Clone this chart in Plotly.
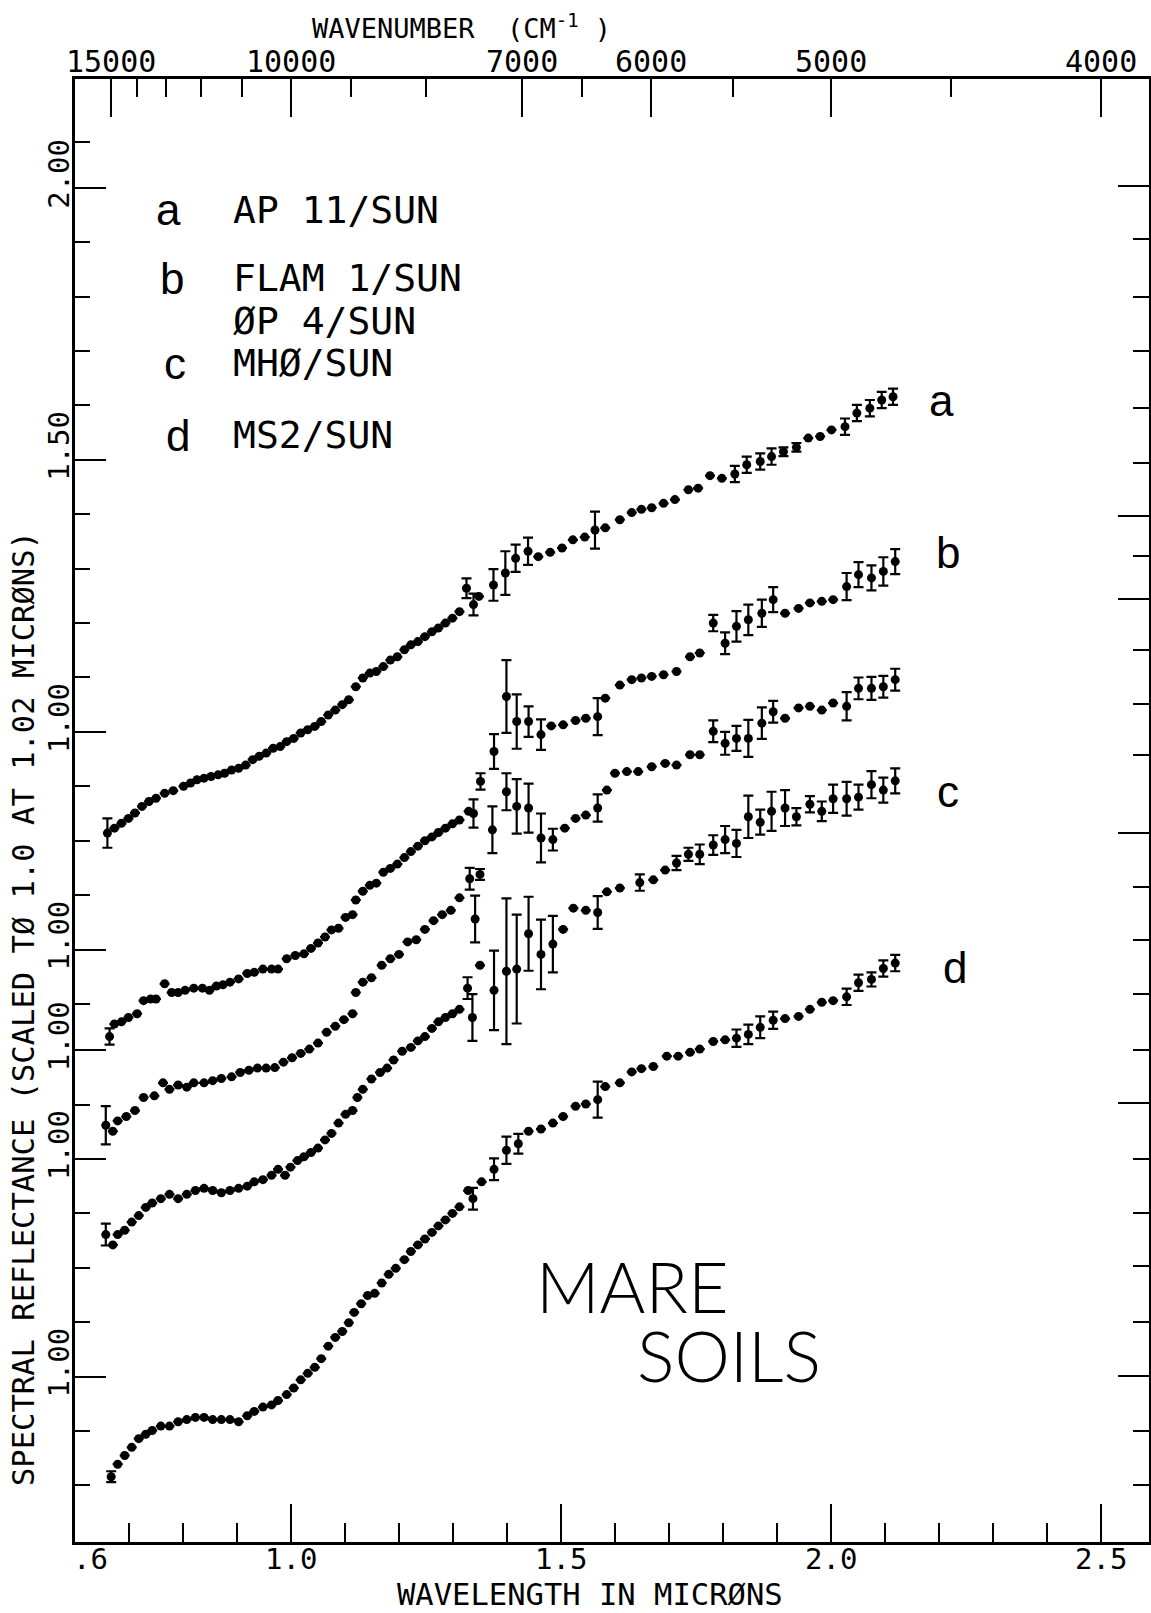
import plotly.graph_objects as go

# ---------------- data: reflectance normalised to 1.0 at 1.02 microns ----------------
wl_a = [
    0.660, 0.673, 0.686, 0.699, 0.711, 0.724, 0.737, 0.750, 0.766, 0.782,
    0.801, 0.814, 0.826, 0.839, 0.852, 0.865, 0.877, 0.890, 0.903, 0.916,
    0.929, 0.941, 0.954, 0.967, 0.980, 0.992, 1.005, 1.018, 1.031, 1.044,
    1.056, 1.069, 1.082, 1.095, 1.107, 1.120, 1.133, 1.146, 1.158, 1.171,
    1.184, 1.197, 1.210, 1.222, 1.235, 1.248, 1.261, 1.273, 1.286, 1.299,
    1.312, 1.325, 1.338, 1.348, 1.375, 1.397, 1.416, 1.439, 1.458, 1.480,
    1.502, 1.522, 1.544, 1.563, 1.582, 1.609, 1.631, 1.649, 1.668, 1.690,
    1.711, 1.736, 1.754, 1.776, 1.798, 1.822, 1.844, 1.869, 1.890, 1.912,
    1.936, 1.958, 1.980, 2.001, 2.026, 2.048, 2.072, 2.094, 2.115]
refl_a = [
    0.814, 0.823, 0.832, 0.841, 0.851, 0.863, 0.872, 0.878, 0.887, 0.892,
    0.900, 0.906, 0.912, 0.915, 0.918, 0.921, 0.924, 0.930, 0.933, 0.939,
    0.949, 0.955, 0.961, 0.970, 0.973, 0.982, 0.988, 0.998, 1.004, 1.010,
    1.019, 1.031, 1.040, 1.050, 1.059, 1.083, 1.099, 1.108, 1.111, 1.120,
    1.132, 1.138, 1.151, 1.160, 1.166, 1.175, 1.184, 1.191, 1.200, 1.209,
    1.221, 1.264, 1.234, 1.249, 1.270, 1.292, 1.319, 1.332, 1.322, 1.330,
    1.338, 1.353, 1.358, 1.371, 1.375, 1.390, 1.403, 1.409, 1.412, 1.420,
    1.427, 1.445, 1.448, 1.471, 1.466, 1.474, 1.491, 1.497, 1.506, 1.515,
    1.523, 1.540, 1.543, 1.555, 1.561, 1.586, 1.595, 1.610, 1.616]
err_a = {0.660: 0.027, 1.325: 0.018, 1.338: 0.020, 1.375: 0.029, 1.397: 0.040,
         1.416: 0.025, 1.439: 0.025, 1.563: 0.034, 1.822: 0.015, 1.844: 0.015,
         1.869: 0.015, 1.890: 0.015, 1.912: 0.008, 1.936: 0.008, 2.026: 0.015,
         2.048: 0.015, 2.072: 0.015, 2.094: 0.015, 2.115: 0.015}

wl_b = [
    0.664, 0.673, 0.686, 0.699, 0.715, 0.727, 0.740, 0.750, 0.766, 0.779,
    0.791, 0.804, 0.820, 0.836, 0.849, 0.862, 0.874, 0.887, 0.903, 0.919,
    0.932, 0.948, 0.964, 0.976, 0.992, 1.008, 1.024, 1.037, 1.050, 1.063,
    1.075, 1.088, 1.101, 1.114, 1.120, 1.133, 1.146, 1.158, 1.171, 1.184,
    1.197, 1.210, 1.222, 1.235, 1.248, 1.261, 1.273, 1.286, 1.299, 1.312,
    1.329, 1.338, 1.351, 1.376, 1.399, 1.418, 1.440, 1.463, 1.482, 1.504,
    1.527, 1.546, 1.568, 1.582, 1.609, 1.631, 1.649, 1.668, 1.690, 1.714,
    1.739, 1.757, 1.782, 1.804, 1.825, 1.847, 1.872, 1.893, 1.915, 1.940,
    1.961, 1.983, 2.004, 2.029, 2.051, 2.075, 2.097, 2.119]
refl_b = [
    0.840, 0.863, 0.867, 0.875, 0.882, 0.906, 0.909, 0.909, 0.937, 0.921,
    0.921, 0.925, 0.929, 0.929, 0.925, 0.933, 0.935, 0.940, 0.946, 0.956,
    0.958, 0.964, 0.964, 0.964, 0.983, 0.989, 0.992, 1.002, 1.012, 1.023,
    1.036, 1.039, 1.059, 1.064, 1.091, 1.107, 1.118, 1.122, 1.142, 1.149,
    1.157, 1.169, 1.180, 1.190, 1.200, 1.207, 1.215, 1.223, 1.231, 1.238,
    1.254, 1.250, 1.309, 1.364, 1.465, 1.419, 1.419, 1.395, 1.411, 1.413,
    1.421, 1.425, 1.428, 1.462, 1.486, 1.496, 1.499, 1.502, 1.505, 1.511,
    1.538, 1.545, 1.600, 1.563, 1.594, 1.606, 1.618, 1.643, 1.618, 1.627,
    1.637, 1.640, 1.643, 1.667, 1.689, 1.683, 1.695, 1.713]
err_b = {0.664: 0.015, 1.338: 0.026, 1.351: 0.015, 1.376: 0.032, 1.399: 0.067,
         1.418: 0.050, 1.440: 0.028, 1.463: 0.028, 1.568: 0.034, 1.782: 0.015,
         1.804: 0.020, 1.825: 0.028, 1.847: 0.028, 1.872: 0.025, 1.893: 0.023,
         2.029: 0.025, 2.051: 0.023, 2.075: 0.023, 2.097: 0.026, 2.119: 0.023}

wl_b2 = [
    0.657, 0.670, 0.679, 0.695, 0.711, 0.727, 0.747, 0.763, 0.775, 0.791,
    0.807, 0.820, 0.839, 0.855, 0.871, 0.890, 0.906, 0.922, 0.938, 0.954,
    0.970, 0.986, 1.002, 1.018, 1.034, 1.050, 1.066, 1.082, 1.098, 1.114,
    1.120, 1.133, 1.149, 1.168, 1.184, 1.200, 1.216, 1.232, 1.248, 1.264,
    1.280, 1.296, 1.312, 1.331, 1.341, 1.350, 1.373, 1.399, 1.418, 1.440,
    1.463, 1.485, 1.507, 1.527, 1.546, 1.568, 1.585, 1.600, 1.622, 1.643,
    1.668, 1.693, 1.714, 1.739, 1.757, 1.782, 1.804, 1.825, 1.847, 1.872,
    1.893, 1.915, 1.940, 1.961, 1.983, 2.004, 2.029, 2.051, 2.075, 2.097,
    2.119]
refl_b2 = [
    0.862, 0.851, 0.870, 0.878, 0.889, 0.913, 0.916, 0.940, 0.928, 0.936,
    0.932, 0.940, 0.940, 0.944, 0.948, 0.951, 0.959, 0.963, 0.967, 0.967,
    0.968, 0.978, 0.986, 0.994, 1.002, 1.013, 1.033, 1.044, 1.056, 1.067,
    1.106, 1.125, 1.133, 1.156, 1.168, 1.176, 1.199, 1.203, 1.222, 1.238,
    1.249, 1.257, 1.280, 1.315, 1.241, 1.323, 1.405, 1.475, 1.448, 1.445,
    1.390, 1.387, 1.408, 1.426, 1.432, 1.445, 1.478, 1.509, 1.512, 1.512,
    1.521, 1.527, 1.524, 1.543, 1.543, 1.586, 1.564, 1.573, 1.573, 1.601,
    1.622, 1.610, 1.629, 1.632, 1.625, 1.638, 1.632, 1.665, 1.665, 1.668,
    1.681]
err_b2 = {0.657: 0.035, 1.331: 0.020, 1.341: 0.043, 1.350: 0.010, 1.373: 0.043,
          1.399: 0.034, 1.418: 0.050, 1.440: 0.045, 1.463: 0.045, 1.485: 0.020,
          1.568: 0.025, 1.782: 0.020, 1.804: 0.021, 1.825: 0.023, 1.847: 0.034,
          1.872: 0.029, 1.893: 0.020, 2.029: 0.026, 2.051: 0.020, 2.075: 0.021,
          2.097: 0.020, 2.119: 0.020}

wl_c = [
    0.657, 0.670, 0.679, 0.692, 0.705, 0.718, 0.731, 0.743, 0.759, 0.775,
    0.791, 0.807, 0.823, 0.839, 0.855, 0.871, 0.887, 0.903, 0.919, 0.932,
    0.948, 0.964, 0.976, 0.989, 0.999, 1.012, 1.024, 1.037, 1.050, 1.063,
    1.075, 1.088, 1.101, 1.114, 1.123, 1.133, 1.149, 1.165, 1.178, 1.190,
    1.206, 1.222, 1.235, 1.248, 1.261, 1.273, 1.286, 1.299, 1.312, 1.327,
    1.336, 1.350, 1.376, 1.399, 1.418, 1.440, 1.463, 1.485, 1.504, 1.523,
    1.546, 1.568, 1.585, 1.609, 1.646, 1.671, 1.693, 1.714, 1.736, 1.757,
    1.782, 1.804, 1.825, 1.847, 1.869, 1.890, 1.915, 1.936, 1.961, 1.983,
    2.004, 2.029, 2.051, 2.075, 2.097, 2.119]
refl_c = [
    0.861, 0.842, 0.861, 0.869, 0.884, 0.896, 0.911, 0.919, 0.927, 0.935,
    0.927, 0.935, 0.942, 0.946, 0.942, 0.938, 0.942, 0.946, 0.950, 0.958,
    0.962, 0.970, 0.981, 0.970, 0.985, 0.997, 1.004, 1.012, 1.020, 1.035,
    1.047, 1.066, 1.082, 1.089, 1.113, 1.128, 1.147, 1.159, 1.167, 1.182,
    1.198, 1.205, 1.217, 1.225, 1.240, 1.252, 1.260, 1.267, 1.275, 1.314,
    1.260, 1.356, 1.310, 1.345, 1.349, 1.414, 1.376, 1.395, 1.422, 1.461,
    1.457, 1.453, 1.491, 1.498, 1.508, 1.513, 1.531, 1.544, 1.560, 1.560,
    1.577, 1.587, 1.580, 1.629, 1.619, 1.639, 1.645, 1.629, 1.652, 1.639,
    1.662, 1.662, 1.665, 1.688, 1.678, 1.695]
err_c = {0.657: 0.020, 1.327: 0.020, 1.336: 0.043, 1.376: 0.073, 1.399: 0.134,
         1.418: 0.100, 1.440: 0.068, 1.463: 0.064, 1.485: 0.052, 1.568: 0.030,
         1.646: 0.015, 1.714: 0.013, 1.736: 0.012, 1.757: 0.018, 1.782: 0.018,
         1.804: 0.025, 1.825: 0.025, 1.847: 0.039, 1.869: 0.023, 1.890: 0.036,
         1.915: 0.033, 1.936: 0.016, 1.961: 0.015, 1.983: 0.018, 2.004: 0.026,
         2.029: 0.031, 2.051: 0.023, 2.075: 0.025, 2.097: 0.023, 2.119: 0.023}

wl_d = [
    0.667, 0.679, 0.692, 0.705, 0.718, 0.731, 0.743, 0.759, 0.775, 0.791,
    0.807, 0.823, 0.839, 0.855, 0.871, 0.887, 0.903, 0.919, 0.932, 0.948,
    0.964, 0.976, 0.992, 1.005, 1.018, 1.031, 1.044, 1.056, 1.069, 1.082,
    1.095, 1.107, 1.117, 1.130, 1.142, 1.155, 1.168, 1.181, 1.194, 1.210,
    1.222, 1.235, 1.248, 1.261, 1.273, 1.286, 1.299, 1.312, 1.328, 1.337,
    1.353, 1.376, 1.399, 1.421, 1.440, 1.463, 1.485, 1.504, 1.527, 1.546,
    1.568, 1.582, 1.609, 1.631, 1.649, 1.671, 1.696, 1.717, 1.739, 1.757,
    1.782, 1.804, 1.825, 1.847, 1.869, 1.893, 1.915, 1.940, 1.961, 1.983,
    2.004, 2.029, 2.051, 2.075, 2.097, 2.119]
refl_d = [
    0.816, 0.839, 0.855, 0.870, 0.886, 0.894, 0.901, 0.909, 0.909, 0.917,
    0.921, 0.925, 0.925, 0.921, 0.921, 0.921, 0.917, 0.928, 0.936, 0.944,
    0.948, 0.956, 0.967, 0.979, 0.994, 1.006, 1.017, 1.033, 1.056, 1.072,
    1.083, 1.099, 1.118, 1.134, 1.149, 1.153, 1.172, 1.188, 1.199, 1.215,
    1.230, 1.242, 1.253, 1.265, 1.277, 1.288, 1.300, 1.312, 1.342, 1.327,
    1.358, 1.381, 1.416, 1.428, 1.451, 1.455, 1.466, 1.478, 1.497, 1.501,
    1.509, 1.533, 1.540, 1.560, 1.566, 1.570, 1.589, 1.589, 1.596, 1.602,
    1.616, 1.619, 1.622, 1.629, 1.642, 1.655, 1.658, 1.662, 1.675, 1.688,
    1.691, 1.698, 1.724, 1.730, 1.750, 1.760]
err_d = {0.667: 0.010, 1.337: 0.020, 1.376: 0.020, 1.399: 0.025, 1.421: 0.018,
         1.568: 0.033, 1.825: 0.016, 1.847: 0.018, 1.869: 0.020, 1.893: 0.016,
         2.029: 0.015, 2.051: 0.015, 2.075: 0.013, 2.097: 0.015, 2.119: 0.015}

# vertical offsets that stack the spectra (a on top)
series_names = ["AP 11/SUN", "FLAM 1/SUN", "ØP 4/SUN", "MHØ/SUN", "MS2/SUN"]
series_offsets = [0.0, 0.40, 0.585, 0.785, 1.185]

# axis tick definitions
wl_major = [0.6, 1.0, 1.5, 2.0, 2.5]
wl_major_text = [".6", "1.0", "1.5", "2.0", "2.5"]
wl_minor = [0.7, 0.8, 0.9, 1.1, 1.2, 1.3, 1.4, 1.6, 1.7, 1.8, 1.9, 2.1, 2.2, 2.3, 2.4]
wn_major = [15000, 10000, 7000, 6000, 5000, 4000]
wn_minor = [14000, 13000, 12000, 11000, 9000, 8000, 6500, 5500, 4500]
left_minor = [2.085, 1.9, 1.8, 1.7, 1.6, 1.4, 1.3, 1.2, 1.1, 0.9, 0.8, 0.7, 0.5,
              0.315, 0.115, 0.015, -0.085, -0.285, -0.385]
right_major = [2.004, 1.397, 1.244, 0.814, 0.317, -0.184]
right_minor = [1.906, 1.80, 1.70, 1.596, 1.494, 1.324, 1.151, 1.051, 0.958, 0.715,
               0.618, 0.518, 0.415, 0.215, 0.116, 0.018, -0.085, -0.285, -0.384]

# ---------------- figure ----------------
W, H = 1151, 1613
ML, MR, MT, MB = 75, 2, 79, 71
MONO = "DejaVu Sans Mono"
SANS = "Liberation Sans"
X_RANGE = [0.6, 2.589]
Y_RANGE = [-0.489, 2.2]


def px_x(px):
    return (px - ML) / (W - ML - MR)


def px_y(py):
    return (H - MB - py) / (H - MT - MB)


def err_list(wl, table):
    return [table.get(round(w, 3), 0.0) for w in wl]


fig = go.Figure()

all_series = [
    (wl_a, refl_a, err_a),
    (wl_b, refl_b, err_b),
    (wl_b2, refl_b2, err_b2),
    (wl_c, refl_c, err_c),
    (wl_d, refl_d, err_d),
]
for name, off, (wl, refl, errs) in zip(series_names, series_offsets, all_series):
    fig.add_trace(go.Scatter(
        x=wl, y=[v - off for v in refl], mode="markers", name=name,
        marker=dict(size=9, color="black", symbol="circle", line=dict(width=0)),
        error_y=dict(type="data", array=err_list(wl, errs), visible=True,
                     color="black", thickness=2.2, width=5),
        showlegend=False, hoverinfo="skip",
    ))

# empty trace so the wavenumber axis and the right-hand frame are drawn
fig.add_trace(go.Scatter(x=[], y=[], xaxis="x2", yaxis="y2", showlegend=False))

left_major = [2.0, 1.5] + [1.0 - off for off in series_offsets]
left_major_text = ["2.00", "1.50"] + ["1.00"] * len(series_offsets)

axis_common = dict(showline=True, linecolor="black", linewidth=2.5, ticks="inside",
                   tickcolor="black", tickwidth=2, showgrid=False, zeroline=False,
                   showticklabels=False)

fig.update_layout(
    width=W, height=H,
    margin=dict(l=ML, r=MR, t=MT, b=MB, pad=0),
    paper_bgcolor="white", plot_bgcolor="white",
    showlegend=False,
    xaxis=dict(range=X_RANGE, tickmode="array", tickvals=wl_major, ticklen=38,
               minor=dict(tickvals=wl_minor, ticks="inside", ticklen=19, tickwidth=2,
                          tickcolor="black"), **axis_common),
    xaxis2=dict(range=X_RANGE, overlaying="x", side="top", anchor="y", tickmode="array",
                tickvals=[10000.0 / w for w in wn_major], ticklen=38,
                minor=dict(tickvals=[10000.0 / w for w in wn_minor], ticks="inside",
                           ticklen=18, tickwidth=2, tickcolor="black"), **axis_common),
    yaxis=dict(range=Y_RANGE, tickmode="array", tickvals=left_major, ticklen=31,
               minor=dict(tickvals=left_minor, ticks="inside", ticklen=15, tickwidth=2,
                          tickcolor="black"), **axis_common),
    yaxis2=dict(range=Y_RANGE, overlaying="y", side="right", anchor="x", tickmode="array",
                tickvals=right_major, ticklen=31,
                minor=dict(tickvals=right_minor, ticks="inside", ticklen=16, tickwidth=2,
                           tickcolor="black"), **axis_common),
)

annotations = []


def text_at(text, x, y, size, family=MONO, xref="paper", yref="paper", xanchor="center",
            angle=0, weight=None, xshift=0, yshift=0):
    font = dict(family=family, size=size, color="black")
    if weight is not None:
        font["weight"] = weight
    annotations.append(dict(text=text, x=x, y=y, xref=xref, yref=yref,
                            xanchor=xanchor, yanchor="middle", showarrow=False,
                            textangle=angle, font=font, xshift=xshift, yshift=yshift))


# tick labels: wavelength (bottom), wavenumber (top), reflectance (left)
for v, t in zip(wl_major, wl_major_text):
    text_at(t, v, px_y(1559), 29, xref="x", xshift=15 if t == ".6" else 0)
for w in wn_major:
    text_at(str(w), 10000.0 / w, px_y(62), 30, xref="x")
for v, t in zip(left_major, left_major_text):
    text_at(t, px_x(59), v, 29, yref="y", angle=-90, yshift=14)

# axis titles
text_at("WAVENUMBER\u00a0\u00a0(CM<sup>-1</sup>\u00a0)", px_x(461), px_y(26), 27)
text_at("WAVELENGTH IN MICRØNS", px_x(590), px_y(1594), 30.5)
text_at("SPECTRAL REFLECTANCE (SCALED TØ 1.0 AT 1.02 MICRØNS)", px_x(24), px_y(1009), 30.5,
        angle=-90)

# key
key_rows = [("a", 168, 210, ["AP 11/SUN"]),
            ("b", 172, 278, ["FLAM 1/SUN", "ØP 4/SUN"]),
            ("c", 175, 363, ["MHØ/SUN"]),
            ("d", 178, 435, ["MS2/SUN"])]
for letter, lx, ly, lines in key_rows:
    text_at(letter, px_x(lx), px_y(ly), 44, family=SANS)
    for i, line in enumerate(lines):
        text_at(line, px_x(231), px_y(ly + 43 * i), 38, xanchor="left")

# curve tags at the right-hand ends
for letter, lx, ly in [("a", 941, 400), ("b", 948, 552), ("c", 948, 792), ("d", 955, 967)]:
    text_at(letter, px_x(lx), px_y(ly), 44, family=SANS)

text_at("MARE", px_x(632), px_y(1286), 70, family="Lato", weight=300)
text_at("SOILS", px_x(729), px_y(1355), 70, family="Lato", weight=300)

fig.update_layout(annotations=annotations)

fig.write_html("out.html")
